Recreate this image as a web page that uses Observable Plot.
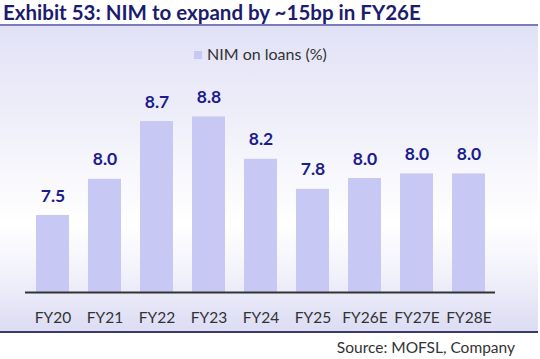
<!DOCTYPE html>
<html>
<head>
<meta charset="utf-8">
<script src="https://cdn.jsdelivr.net/npm/d3@7"></script>
<script src="https://cdn.jsdelivr.net/npm/@observablehq/plot@0.6"></script>
<style>
  html, body { margin: 0; padding: 0; background: #fff; }
  #wrap { position: relative; width: 540px; height: 359px; overflow: hidden; font-family: Lato, "Open Sans", sans-serif; }
  #title { position: absolute; left: 3px; top: 0px; font-size: 20.5px; font-weight: bold; color: #1c1c6e; white-space: nowrap; }
  #topline { position: absolute; left: 0; top: 24px; width: 538px; height: 2px; background: #7c7cb8; }
  #panel { position: absolute; left: 0; top: 26px; width: 538px; height: 305px;
    background: linear-gradient(to bottom, #e2e2f7 0%, #ececf9 25%, #f8f8fd 50%, #ffffff 65%, #f1f1fb 82%, #dcdcf4 100%); }
  #bottomline { position: absolute; left: 0; top: 331px; width: 538px; height: 1.5px; background: #3a3a6a; }
  #legend { position: absolute; left: 194px; top: 44px; font-size: 16px; color: #333; white-space: nowrap; }
  #legend .sw { display: inline-block; width: 8px; height: 8px; background: #c8c8f4; margin-right: 5px; vertical-align: 1px; }
  #chart { position: absolute; left: 0; top: 26px; }
  #source { position: absolute; right: 25px; top: 338px; font-size: 15.5px; color: #333; white-space: nowrap; }
</style>
</head>
<body>
<div id="wrap">
  <div id="title">Exhibit 53: NIM to expand by ~15bp in FY26E</div>
  <div id="topline"></div>
  <div id="panel"></div>
  <div id="chart"></div>
  <div id="legend"><span class="sw"></span>NIM on loans (%)</div>
  <div id="bottomline"></div>
  <div id="source">Source: MOFSL, Company</div>
</div>
<script>
const years = ["FY20", "FY21", "FY22", "FY23", "FY24", "FY25", "FY26E", "FY27E", "FY28E"];
const nim = [7.5, 7.97, 8.72, 8.78, 8.23, 7.84, 7.98, 8.04, 8.04];
const seriesName = "NIM on loans (%)";

const data = years.map((y, i) => ({year: y, value: nim[i]}));

const chart = Plot.plot({
  width: 540,
  height: 305,
  marginLeft: 25,
  marginRight: 45,
  marginTop: 0,
  marginBottom: 39,
  style: {background: "transparent", fontFamily: "Lato, 'Open Sans', sans-serif", overflow: "visible"},
  x: {domain: years, paddingInner: 0.37, paddingOuter: 0.185, label: null},
  y: {domain: [6.5, 9.6], range: [266, 266 - 3.1 * 77], axis: null},
  marks: [
    Plot.barY(data, {x: "year", y1: 6.5, y2: "value", fill: "#c8c8f4",
      style: {filter: "drop-shadow(1px 1px 2px rgba(0,0,0,0.14))"}}),
    Plot.ruleY([6.5], {stroke: "#333", strokeWidth: 2}),
    Plot.text(data, {x: "year", y: "value", text: d => d.value.toFixed(1), lineAnchor: "bottom", dy: -14,
      fill: "#1c1c8c", fontWeight: "bold", fontSize: 17.5}),
    Plot.axisX({tickSize: 0, tickPadding: 19, fontSize: 15.5, color: "#333", label: null})
  ]
});
document.getElementById("chart").appendChild(chart);
</script>
</body>
</html>
